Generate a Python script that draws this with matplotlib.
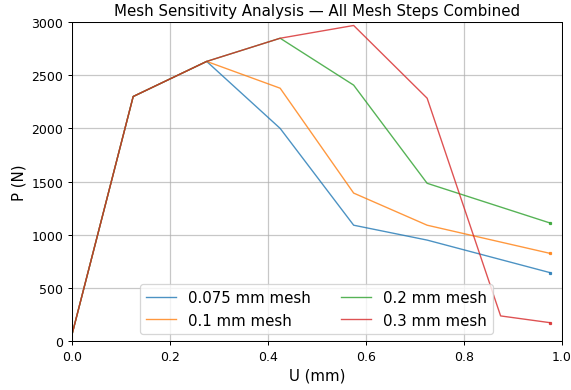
import matplotlib
matplotlib.use("Agg")
import matplotlib.pyplot as plt

# Load-displacement curves for each mesh size
labels = ["0.075 mm mesh", "0.1 mm mesh", "0.2 mm mesh", "0.3 mm mesh"]
colors = ["#1f77b4", "#ff7f0e", "#2ca02c", "#d62728"]

u_075 = [0.0, 0.125, 0.275, 0.425, 0.575, 0.725, 0.975]
p_075 = [60, 2300, 2630, 2000, 1090, 950, 645]

u_010 = [0.0, 0.125, 0.275, 0.425, 0.575, 0.725, 0.975]
p_010 = [60, 2300, 2630, 2378, 1392, 1090, 826]

u_020 = [0.0, 0.125, 0.275, 0.425, 0.575, 0.725, 0.975]
p_020 = [60, 2300, 2630, 2848, 2407, 1484, 1112]

u_030 = [0.0, 0.125, 0.275, 0.425, 0.575, 0.725, 0.875, 0.975]
p_030 = [60, 2300, 2630, 2848, 2968, 2284, 237, 174]

series = [(u_075, p_075), (u_010, p_010), (u_020, p_020), (u_030, p_030)]

DPI = 90
fig = plt.figure(figsize=(571 / DPI, 391 / DPI), dpi=DPI)
ax = fig.add_axes([0.126, 0.125, 0.858, 0.816])

for (u, p), lab, c in zip(series, labels, colors):
    ax.plot(u, p, color=c, lw=1.1, alpha=0.8, label=lab)
    # small dot at the final load step
    ax.plot(u[-1:], p[-1:], color=c, alpha=0.8, marker="s",
            markersize=1.8, linestyle="none")

ax.set_xlim(0, 1.0)
ax.set_ylim(0, 3000)
ax.grid(True, color="#b0b0b0", lw=1, alpha=0.7)
ax.set_xlabel("U (mm)", fontsize=12)
ax.set_ylabel("P (N)", fontsize=12)
ax.set_title("Mesh Sensitivity Analysis — All Mesh Steps Combined", fontsize=12)
ax.legend(loc="lower center", ncol=2, fontsize=12)

fig.savefig("out.png", dpi=DPI)
